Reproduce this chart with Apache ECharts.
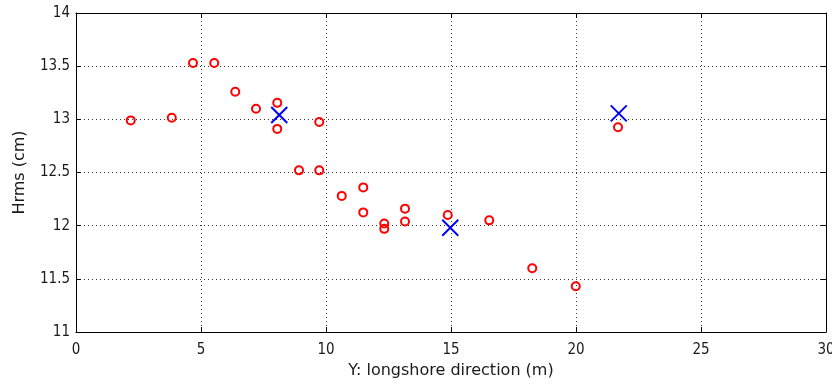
<!DOCTYPE html>
<html>
<head>
<meta charset="utf-8">
<script src="https://cdn.jsdelivr.net/npm/echarts@6/dist/echarts.min.js"></script>
<style>
html,body{margin:0;padding:0;background:#fff;overflow:hidden;}
#chart{width:832px;height:388px;}
</style>
</head>
<body>
<div id="chart"></div>
<script>
// Measured (red circles)
var measX = [2.19, 3.83, 4.68, 5.53, 6.37, 7.20, 8.05, 8.05, 8.92, 9.73, 9.73, 10.63, 11.49, 11.49, 12.33, 12.33, 13.16, 13.16, 14.87, 16.53, 18.25, 19.99, 21.68];
var measY = [12.99, 13.015, 13.53, 13.53, 13.26, 13.10, 13.155, 12.91, 12.52, 12.975, 12.52, 12.28, 12.36, 12.125, 12.02, 11.97, 12.16, 12.04, 12.10, 12.05, 11.60, 11.43, 12.925];
// Model (blue crosses)
var modelX = [8.13, 14.97, 21.71];
var modelY = [13.04, 11.98, 13.056];
var xTicks = [0, 5, 10, 15, 20, 25, 30];
var yTicks = [11, 11.5, 12, 12.5, 13, 13.5, 14];

var FONT = "'DejaVu Sans Condensed', 'DejaVu Sans', sans-serif";
var TFONT = "'DejaVu Sans', sans-serif";
function pairs(xs, ys){ return xs.map(function(x,i){ return [x, ys[i]]; }); }

var chart = echarts.init(document.getElementById('chart'), null, {renderer:'canvas'});
var gridLine = {show:true, lineStyle:{color:'#333', width:1, type:[1,3]}};
var axisLine = {show:true, onZero:false, lineStyle:{color:'#000', width:1}};
var ticksIn = {show:true, inside:true, length:5, lineStyle:{color:'#000', width:1}};
chart.setOption({
  animation:false,
  backgroundColor:'#fff',
  grid:{left:76, right:6, top:13, bottom:56, containLabel:false, outerBoundsMode:'none'},
  xAxis:[{
    type:'value', min:xTicks[0], max:xTicks[xTicks.length-1], interval:5, position:'bottom',
    name:'Y: longshore direction (m)', nameLocation:'middle', nameGap:28,
    nameTextStyle:{fontFamily:TFONT, fontSize:16, color:'#1a1a1a'},
    axisLine:axisLine, axisTick:ticksIn, splitLine:gridLine,
    axisLabel:{fontFamily:FONT, fontSize:15, color:'#1a1a1a', margin:11, hideOverlap:false}
  },{
    type:'value', min:xTicks[0], max:xTicks[xTicks.length-1], interval:5, position:'top',
    axisLine:axisLine, axisTick:ticksIn, splitLine:{show:false}, axisLabel:{show:false}
  }],
  yAxis:[{
    type:'value', min:yTicks[0], max:yTicks[yTicks.length-1], interval:0.5, position:'left',
    name:'Hrms (cm)', nameLocation:'middle', nameGap:48,
    nameTextStyle:{fontFamily:TFONT, fontSize:16, color:'#1a1a1a'},
    axisLine:axisLine, axisTick:ticksIn, splitLine:gridLine,
    axisLabel:{fontFamily:FONT, fontSize:15, color:'#1a1a1a', margin:6}
  },{
    type:'value', min:yTicks[0], max:yTicks[yTicks.length-1], interval:0.5, position:'right',
    axisLine:axisLine, axisTick:ticksIn, splitLine:{show:false}, axisLabel:{show:false}
  }],
  series:[{
    type:'scatter', data:pairs(measX, measY), symbol:'circle', symbolSize:8,
    itemStyle:{color:'rgba(0,0,0,0)', borderColor:'#ff0000', borderWidth:2, opacity:1},
    z:3
  },{
    type:'scatter', data:pairs(modelX, modelY), symbol:'path://M0,0L10,10M10,0L0,10', symbolSize:16,
    itemStyle:{color:'rgba(0,0,0,0)', borderColor:'#0000ff', borderWidth:2, opacity:1},
    z:4
  }]
});
</script>
</body>
</html>
